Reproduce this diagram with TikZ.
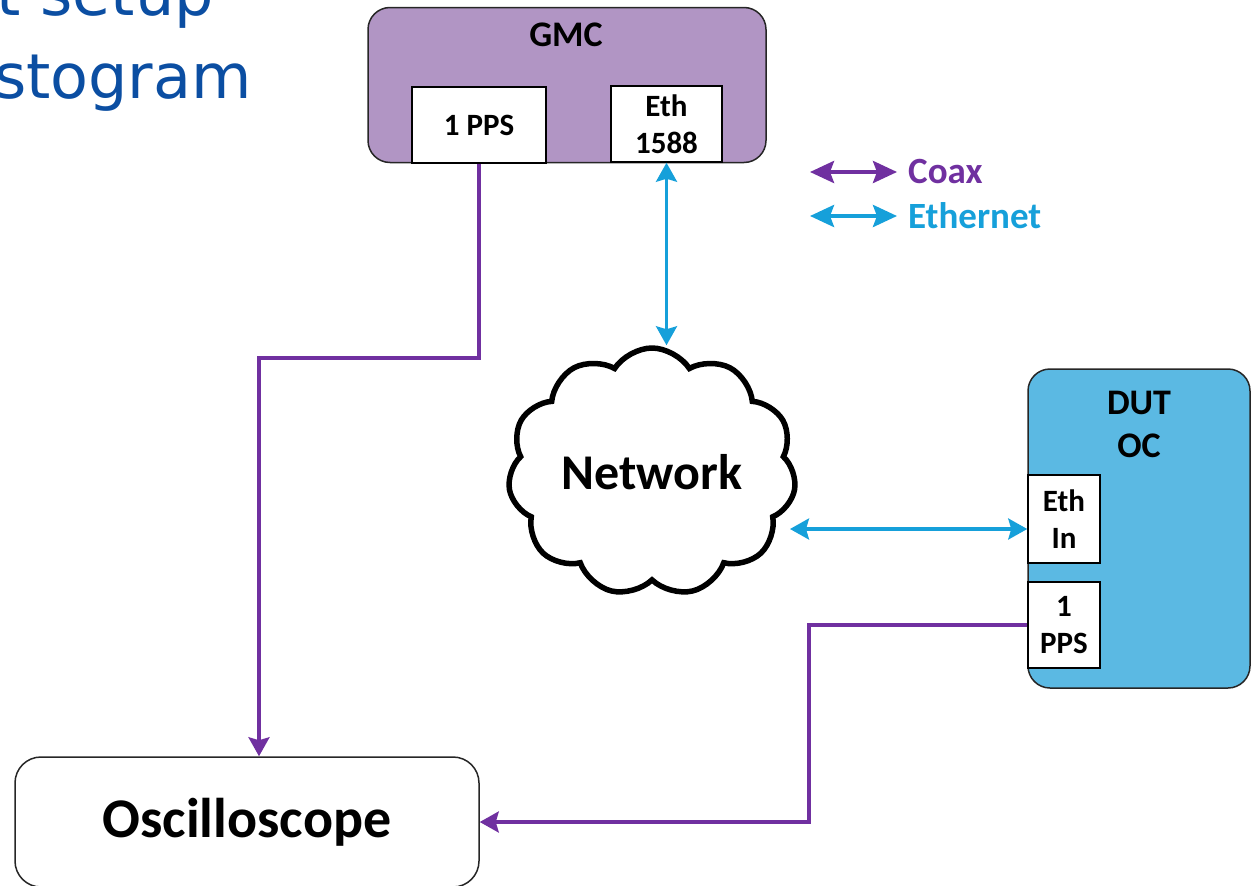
\documentclass[tikz,border=0pt]{standalone}
\usepackage{fontspec}
\setmainfont{Carlito}
\newfontfamily\titlefont{DejaVu Sans}
\usepackage{tikz}
\usetikzlibrary{arrows.meta}
\usetikzlibrary{shapes.symbols}

\definecolor{gmcfill}{RGB}{177,149,196}
\definecolor{dutfill}{RGB}{91,185,227}
\definecolor{coaxcol}{RGB}{112,48,160}
\definecolor{ethcol}{RGB}{22,160,218}
\definecolor{titleblue}{RGB}{11,78,162}

\begin{document}
\begin{tikzpicture}
[x=1pt,y=-1pt,
 box/.style={draw=black!85,line width=1.5pt,rounded corners=22pt,inner sep=0pt},
 port/.style={draw=black,line width=1.5pt,fill=white,inner sep=0pt,align=center,
   font=\fontsize{31}{37}\selectfont\bfseries},
 lbl/.style={inner sep=0pt,align=center,font=\fontsize{36}{43}\selectfont\bfseries},
 coax/.style={draw=coaxcol,line width=3.2pt,arrows={-Stealth[length=19pt,width=21pt,inset=3pt]}},
 coaxboth/.style={coax,arrows={Stealth[length=19pt,width=21pt,inset=3pt]-Stealth[length=19pt,width=21pt,inset=3pt]}},
 eth/.style={draw=ethcol,line width=3.2pt,arrows={Stealth[length=19pt,width=21pt,inset=3pt]-Stealth[length=19pt,width=21pt,inset=3pt]}},
 legend/.style={line width=4pt,arrows={Stealth[length=24pt,width=22pt,inset=4pt]-Stealth[length=24pt,width=22pt,inset=4pt]}},
 legtxt/.style={anchor=west,inner sep=0pt,font=\fontsize{37}{40}\selectfont\bfseries}]
\useasboundingbox (0,0) rectangle (1253,886);
\clip (0,0) rectangle (1253,886);

% slide title, cut off by the page
\node[anchor=base east,inner sep=0pt,text=titleblue,font=\titlefont\fontsize{62}{70}\selectfont] (title1) at (214,15) {t setup};
\node[anchor=base east,inner sep=0pt,text=titleblue,font=\titlefont\fontsize{62}{70}\selectfont] (title2) at (252,98) {stogram};

% GMC
\node[box,fill=gmcfill,minimum width=398pt,minimum height=155pt] (gmc) at (567,85) {};
\node[lbl] (gmctxt) at (566,35) {GMC};
\node[port,minimum width=134pt,minimum height=76pt] (gmcpps) at (479,125) {1 PPS};
\node[port,minimum width=111pt,minimum height=76pt] (gmceth) at (666.5,124) {Eth\\1588};

% DUT
\node[box,fill=dutfill,minimum width=222pt,minimum height=319pt] (dut) at (1139,528.5) {};
\node[lbl] (duttxt) at (1139,424) {DUT\\OC};
\node[port,minimum width=72pt,minimum height=88pt] (dutethin) at (1064,519) {Eth\\In};
\node[port,minimum width=72pt,minimum height=86pt] (dutpps) at (1064,625) {1\\PPS};

% network cloud
\node[cloud,cloud puffs=11,cloud puff arc=115,draw=black,line width=5.5pt,fill=white,
  minimum width=288pt,minimum height=248pt,cloud ignores aspect,
  font=\fontsize{50}{52}\selectfont\bfseries] (net) at (652,472) {Network};

% oscilloscope
\node[box,fill=white,rounded corners=26pt,minimum width=464pt,minimum height=130pt,
  font=\fontsize{56}{60}\selectfont\bfseries] (osc) at (247,822) {Oscilloscope};

% legend
\coordinate (coaxa) at (810,172);
\coordinate (coaxb) at (897,172);
\coordinate (etha) at (810,216);
\coordinate (ethb) at (897,216);
\draw[coaxboth,legend] (coaxa) -- (coaxb);
\draw[eth,legend] (etha) -- (ethb);
\node[legtxt,text=coaxcol] (coaxlbl) at (908,172) {Coax};
\node[legtxt,text=ethcol] (ethlbl) at (908,216) {Ethernet};

% connectors
\coordinate (bendA) at (259,358);
\coordinate (bendB) at (809,822);
\coordinate (netport) at (790,529);
\draw[coax] (gmcpps.south) |- (bendA) -- (bendA |- osc.north);
\draw[coax] (dutpps.west) -| (bendB) -- (osc.east);
\draw[eth] (gmceth.south) -- (gmceth.south |- net.north);
\draw[eth] (netport) -- (netport -| dutethin.west);

\end{tikzpicture}
\end{document}
